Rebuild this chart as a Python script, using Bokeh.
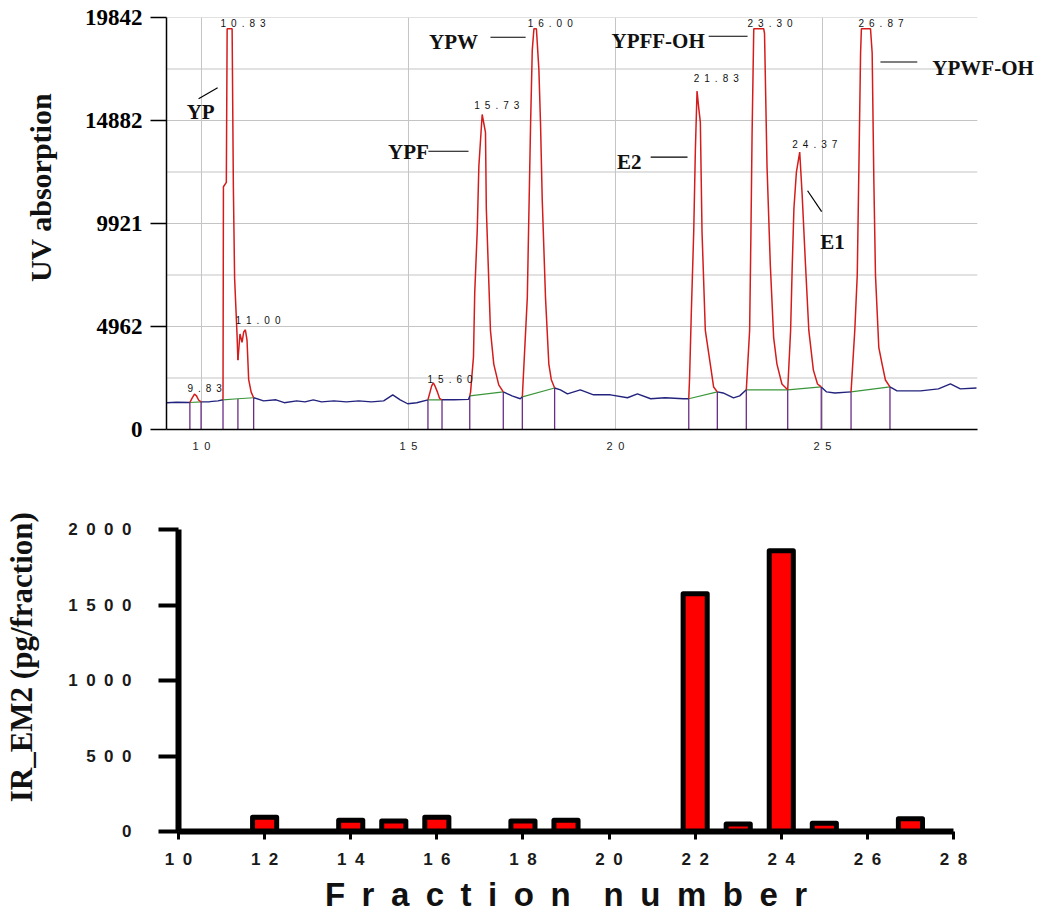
import numpy as np
from bokeh.plotting import figure
from bokeh.models import FixedTicker, Range1d, LinearAxis
from bokeh.embed import file_html
from bokeh.resources import INLINE
from bokeh.core.properties import value

# ---------------- top chart: UV chromatogram ----------------
trace_time = [
    9.16, 9.40, 9.72, 9.77, 9.83, 9.88, 9.93, 9.99, 10.20, 10.40, 10.52,
    10.53, 10.60, 10.62, 10.74, 10.77, 10.80, 10.86, 10.88, 10.93, 10.98, 11.02, 11.06, 11.10, 11.14, 11.20, 11.26,
    11.50, 11.80, 12.00, 12.30, 12.50, 12.70, 12.90, 13.20, 13.50, 13.80, 14.10, 14.40, 14.62, 14.80, 14.98, 15.20, 15.47,
    15.52, 15.56, 15.60, 15.65, 15.70, 15.75, 15.81,
    16.10, 16.45, 16.48,
    16.50, 16.57, 16.60, 16.66, 16.70, 16.78, 16.86, 16.88, 16.98, 17.06, 17.18, 17.29,
    17.50, 17.70, 17.75,
    17.87, 17.95, 17.99, 18.03, 18.09, 18.15, 18.19, 18.23, 18.31, 18.39, 18.45, 18.53,
    18.67, 18.84, 19.15, 19.47, 19.88, 20.29, 20.53, 20.85, 21.20, 21.64, 21.77,
    21.79, 21.83, 21.89, 21.93, 21.97, 22.01, 22.05, 22.09, 22.17, 22.29, 22.37, 22.46,
    22.60, 22.85, 23.00, 23.16,
    23.24, 23.27, 23.30, 23.34, 23.58, 23.60, 23.66, 23.74, 23.82, 23.90, 24.02, 24.16,
    24.23, 24.27, 24.31, 24.37, 24.45, 24.51, 24.59, 24.67, 24.78, 24.88, 24.97,
    25.10, 25.30, 25.69,
    25.78, 25.84, 25.88, 25.92, 25.94, 26.16, 26.20, 26.24, 26.28, 26.36, 26.44, 26.52, 26.63,
    26.80, 27.37, 27.80, 28.09, 28.33, 28.72,
]
trace_abs = [
    1290, 1310, 1300, 1500, 1700, 1620, 1420, 1330, 1340, 1380, 1430,
    11690, 11900, 19300, 19300, 11690, 7300, 4500, 3340, 4600, 4200, 4700, 4800, 4300, 2400, 1800, 1530,
    1380, 1430, 1290, 1380, 1330, 1430, 1330, 1380, 1330, 1380, 1330, 1380, 1670, 1430, 1240, 1290, 1430,
    1800, 2100, 2250, 2050, 1800, 1500, 1430,
    1430, 1450, 1620,
    1800, 3500, 6580, 9540, 12690, 15170, 14310, 10640, 4770, 3150, 2150, 1810,
    1620, 1480, 1575,
    6340, 14790, 18270, 19300, 19300, 17320, 14690, 11110, 6340, 3150, 2400, 2000,
    1910, 1717, 1910, 1670, 1670, 1530, 1717, 1480, 1530, 1480, 1480,
    2500, 5500, 9540, 13500, 16300, 15500, 14790, 9540, 4770, 3150, 2050, 1810,
    1760, 1525, 1620, 1910,
    4770, 9200, 14310, 19300, 19300, 19080, 12690, 7920, 4440, 3150, 2190, 1910,
    4770, 7920, 10640, 12400, 13360, 11260, 7920, 4770, 2860, 2190, 2050,
    1810, 1760, 1810,
    4770, 7440, 12690, 18130, 19300, 19300, 18130, 12070, 7440, 3960, 3150, 2385, 2050,
    1860, 1860, 1955, 2195, 1955, 2000,
]
# integration windows (start, end) of each detected peak
peak_start = [9.72, 10.52, 10.88, 15.47, 16.48, 17.75, 21.77, 23.16, 24.16, 25.69]
peak_end = [9.99, 10.88, 11.26, 15.81, 17.29, 18.53, 22.46, 24.16, 24.97, 26.63]
# integration baseline level at every window boundary
bound_time = [9.72, 9.99, 10.52, 10.88, 11.26, 15.47, 15.81, 16.48, 17.29,
              17.75, 18.53, 21.77, 22.46, 23.16, 24.16, 24.97, 25.69, 26.63]
bound_base = [1300, 1330, 1430, 1480, 1530, 1430, 1430, 1620, 1810,
              1575, 2000, 1480, 1810, 1910, 1910, 2050, 1810, 2050]

# retention-time labels printed on the peaks
rt_labels = ["9.83", "10.83", "11.00", "15.60", "15.73", "16.00", "21.83", "23.30", "24.37", "26.87"]
rt_label_time = [9.66, 10.46, 10.82, 15.46, 16.59, 17.88, 21.89, 23.19, 24.27, 25.87]
rt_label_abs = [1955, 19560, 5250, 2430, 15600, 19560, 16890, 19560, 13740, 19560]

# compound names and their leader lines
compound_names = ["YP", "YPW", "YPF", "YPFF-OH", "E2", "E1", "YPWF-OH"]
name_time = [9.98, 16.09, 15.00, 21.03, 20.33, 25.24, 28.88]
name_abs = [15310, 18675, 13380, 18700, 12900, 9015, 17410]
leader_t0 = [9.93, 16.98, 15.48, 22.25, 20.85, 24.64, 26.40]
leader_a0 = [15930, 18890, 13400, 18940, 13120, 11500, 17700]
leader_t1 = [10.39, 17.83, 16.45, 23.19, 21.74, 24.98, 27.29]
leader_a1 = [16460, 18890, 13400, 18940, 13120, 10490, 17700]

uv_ticks = [0, 4962, 9921, 14882, 19842]
time_ticks = [10, 15, 20, 25]
time_axis_start, time_axis_end = 9.155, 28.74

# ---------------- bottom chart: IR_EM2 per fraction ----------------
fractions = [12, 14, 15, 16, 18, 19, 22, 23, 24, 25, 27]
ir_em2 = [95, 75, 70, 95, 70, 75, 1575, 50, 1860, 55, 85]
fraction_ticks = [10, 12, 14, 16, 18, 20, 22, 24, 26, 28]
ir_ticks = [0, 500, 1000, 1500, 2000]

EN = "\u2002"
THIN = "\u2009"


def spaced(s, sep=EN):
    return sep.join(s)


def label_axis(p, text, size, standoff):
    """An extra, otherwise invisible left axis that only carries the axis title."""
    ax = LinearAxis(ticker=FixedTicker(ticks=[], minor_ticks=[]),
                    axis_line_color=None, major_tick_line_color=None,
                    minor_tick_line_color=None, major_tick_out=0, major_tick_in=0,
                    major_label_standoff=0, axis_label=text,
                    axis_label_text_font="Liberation Serif",
                    axis_label_text_font_style="bold",
                    axis_label_text_font_size=size, axis_label_text_color="#111111",
                    axis_label_standoff=standoff)
    p.add_layout(ax, "left")


W = 1040
GRID = "#c4c4c4"
RED = "#d41c1c"
BLUE = "#23237e"
GREEN = "#3a963a"
PURPLE = "#6a2c86"

# frame extends to the right edge so the right-hand compound name is not clipped;
# axis line and grid lines stop at the end of the time axis as in the original
FL, FR = 166, W - 2
px_per_min = 41.4
top = figure(width=W, height=454, output_backend="svg", toolbar_location=None,
             x_range=Range1d(time_axis_start, time_axis_start + (FR - FL) / px_per_min),
             y_range=Range1d(0, uv_ticks[-1]),
             min_border_left=FL, min_border_right=W - FR, min_border_top=17,
             min_border_bottom=20)
top.outline_line_color = None
top.background_fill_color = "white"

t = np.array(trace_time)
a = np.array(trace_abs)

red_xs, red_ys = [], []
for s0, s1 in zip(peak_start, peak_end):
    m = (t >= s0 - 1e-9) & (t <= s1 + 1e-9)
    red_xs.append(list(t[m]))
    red_ys.append(list(a[m]))
gaps = [(t[0], peak_start[0])]
for i in range(len(peak_end) - 1):
    if peak_start[i + 1] > peak_end[i] + 1e-9:
        gaps.append((peak_end[i], peak_start[i + 1]))
gaps.append((peak_end[-1], t[-1]))
blue_xs, blue_ys = [], []
for g0, g1 in gaps:
    m = (t >= g0 - 1e-9) & (t <= g1 + 1e-9)
    blue_xs.append(list(t[m]))
    blue_ys.append(list(a[m]))

base = dict(zip(bound_time, bound_base))

# grid lines (major + half steps), bounded to the time axis
grid_levels = sorted(set(uv_ticks) | {(uv_ticks[i] + uv_ticks[i + 1]) / 2 for i in range(len(uv_ticks) - 1)})
top.segment(x0=[time_axis_start] * len(grid_levels), y0=grid_levels,
            x1=[time_axis_end] * len(grid_levels), y1=grid_levels, line_color=GRID, line_width=1)
top.segment(x0=time_ticks, y0=[0] * len(time_ticks), x1=time_ticks, y1=[uv_ticks[-1]] * len(time_ticks),
            line_color=GRID, line_width=1)

top.segment(x0=bound_time, y0=[0] * len(bound_time), x1=bound_time, y1=bound_base,
            line_color=PURPLE, line_width=1.3)
top.segment(x0=peak_start, y0=[base[s] for s in peak_start],
            x1=peak_end, y1=[base[e] for e in peak_end], line_color=GREEN, line_width=1.2)
top.multi_line(xs=blue_xs, ys=blue_ys, line_color=BLUE, line_width=1.4)
top.multi_line(xs=red_xs, ys=red_ys, line_color=RED, line_width=1.5)

top.text(x=rt_label_time, y=rt_label_abs, text=[spaced(s) for s in rt_labels],
         text_font=value("Liberation Sans"), text_font_size="10px", text_color="#111111",
         text_align="left", text_baseline="middle")
top.segment(x0=leader_t0, y0=leader_a0, x1=leader_t1, y1=leader_a1,
            line_color="black", line_width=1.2)
top.text(x=name_time, y=name_abs, text=compound_names, text_font=value("Liberation Serif"),
         text_font_style="bold", text_font_size="21px", text_color="#111111",
         text_align="center", text_baseline="middle")

top.grid.grid_line_color = None
top.yaxis.ticker = FixedTicker(ticks=uv_ticks, minor_ticks=[])
top.yaxis.major_label_overrides = {v: str(v) for v in uv_ticks}
top.yaxis.major_label_text_font = "Liberation Serif"
top.yaxis.major_label_text_font_style = "bold"
top.yaxis.major_label_text_font_size = "23px"
top.yaxis.major_label_text_color = "black"
top.yaxis.major_label_standoff = 8
top.yaxis.major_tick_out = 16
top.yaxis.major_tick_in = 0
top.yaxis.major_tick_line_width = 1.5
top.yaxis.minor_tick_line_color = None
top.yaxis.axis_line_width = 1.5
# leading spaces lift the (centred) title above the frame centre, as in the original
label_axis(top, EN * 4 + THIN * 2 + "UV absorption", "30px", 25)

top.xaxis.ticker = FixedTicker(ticks=time_ticks, minor_ticks=[])
top.xaxis.bounds = (time_axis_start, time_axis_end)
top.xaxis.major_label_overrides = {v: spaced(str(v)) for v in time_ticks}
top.xaxis.major_label_text_font = "Liberation Sans"
top.xaxis.major_label_text_font_size = "11px"
top.xaxis.major_label_text_color = "#222222"
top.xaxis.major_label_standoff = 4
top.xaxis.major_tick_line_color = None
top.xaxis.minor_tick_line_color = None
top.xaxis.axis_line_width = 1.5

# ---------------- bottom figure ----------------
bot = figure(width=W, height=461, output_backend="svg", toolbar_location=None,
             x_range=Range1d(fraction_ticks[0], fraction_ticks[-1]),
             y_range=Range1d(ir_ticks[0], ir_ticks[-1]),
             min_border_left=178, min_border_right=W - 953, min_border_top=75,
             min_border_bottom=83)
bot.outline_line_color = None
bot.grid.grid_line_color = None
bot.vbar(x=fractions, top=ir_em2, bottom=0, width=0.56, fill_color="#ff0000",
         line_color="black", line_width=5, line_join="round")

for ax in (bot.xaxis, bot.yaxis):
    ax.axis_line_width = 6
    ax.axis_line_color = "black"
    ax.major_tick_in = 0
    ax.minor_tick_line_color = None
    ax.major_label_text_font = "Liberation Sans"
    ax.major_label_text_font_style = "bold"
    ax.major_label_text_font_size = "17px"
    ax.major_label_text_color = "#1a1a1a"

bot.xaxis.ticker = FixedTicker(ticks=fraction_ticks, minor_ticks=[])
bot.xaxis.major_label_overrides = {v: spaced(str(v)) for v in fraction_ticks}
bot.xaxis.major_tick_out = 8
bot.xaxis.major_tick_line_width = 3
bot.xaxis.major_label_standoff = 10
bot.xaxis.axis_label = spaced("Fraction") + EN + EN + spaced("number")
bot.xaxis.axis_label_text_font = "Liberation Sans"
bot.xaxis.axis_label_text_font_style = "bold"
bot.xaxis.axis_label_text_font_size = "33px"
bot.xaxis.axis_label_text_color = "#111111"
bot.xaxis.axis_label_standoff = 4

bot.yaxis[0].ticker = FixedTicker(ticks=ir_ticks, minor_ticks=[])
bot.yaxis[0].major_label_overrides = {v: spaced(str(v)) for v in ir_ticks}
bot.yaxis[0].major_tick_out = 20
bot.yaxis[0].major_tick_line_width = 4
bot.yaxis[0].major_label_standoff = 27
label_axis(bot, EN * 3 + "IR_EM2 (pg/fraction)", "31px", 27)

open("out.html", "w").write(file_html([top, bot], INLINE))
